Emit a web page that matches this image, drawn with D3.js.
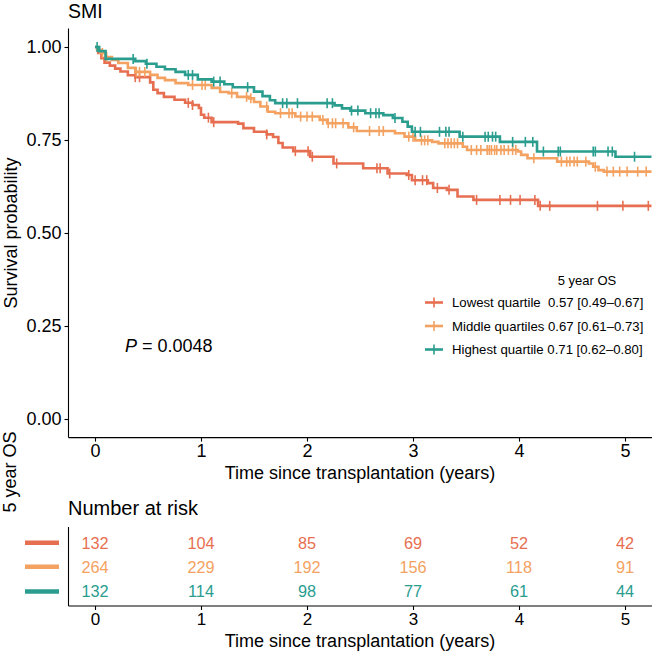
<!DOCTYPE html>
<html><head><meta charset="utf-8">
<script src="https://cdn.jsdelivr.net/npm/d3@7"></script>
<style>
body{margin:0;background:#fff;}
svg text{font-family:"Liberation Sans",Arial,Helvetica,sans-serif;fill:#000;}
</style></head>
<body><svg id="c" width="652" height="652"></svg>
<script>
// ---- data ----
const groupNames = ["Lowest quartile  0.57 [0.49\u20130.67]", "Middle quartiles 0.67 [0.61\u20130.73]", "Highest quartile 0.71 [0.62\u20130.80]"];
const groupColors = ["#E76F51", "#F4A261", "#2A9D8F"];

const lowTimes = [0, 0.03, 0.06, 0.09, 0.14, 0.19, 0.24, 0.31, 0.38, 0.52, 0.55, 0.59, 0.65, 0.75, 0.85, 0.92, 0.98, 1.00, 1.03, 1.10, 1.35, 1.40, 1.50, 1.62, 1.68, 1.73, 1.77, 1.87, 2.03, 2.25, 2.53, 2.76, 2.94, 2.99, 3.14, 3.19, 3.32, 3.42, 3.57, 4.18];
const lowSurv = [1.0, 0.984, 0.970, 0.958, 0.950, 0.942, 0.934, 0.924, 0.919, 0.905, 0.885, 0.876, 0.866, 0.858, 0.850, 0.844, 0.836, 0.818, 0.810, 0.798, 0.794, 0.782, 0.772, 0.765, 0.758, 0.742, 0.730, 0.720, 0.705, 0.687, 0.674, 0.660, 0.656, 0.642, 0.634, 0.621, 0.616, 0.598, 0.589, 0.573];
const lowCensor = [0.38, 0.42, 0.88, 0.92, 1.07, 1.12, 1.62, 1.89, 2.01, 2.05, 2.28, 2.66, 2.69, 2.78, 2.96, 3.02, 3.09, 3.13, 3.23, 3.34, 3.60, 3.82, 3.92, 4.01, 4.15, 4.20, 4.29, 4.74, 4.98, 5.22];

const midTimes = [0, 0.02, 0.05, 0.10, 0.16, 0.22, 0.31, 0.38, 0.52, 0.59, 0.66, 0.76, 0.88, 1.10, 1.18, 1.26, 1.34, 1.45, 1.50, 1.56, 1.63, 1.70, 1.89, 2.12, 2.19, 2.39, 2.47, 2.83, 2.92, 3.02, 3.18, 3.24, 3.47, 3.51, 3.99, 4.02, 4.08, 4.36, 4.66, 4.70, 4.75, 4.80];
const midSurv = [1.0, 0.992, 0.984, 0.973, 0.965, 0.957, 0.944, 0.933, 0.925, 0.917, 0.911, 0.903, 0.898, 0.890, 0.879, 0.876, 0.866, 0.862, 0.852, 0.840, 0.826, 0.822, 0.813, 0.804, 0.795, 0.784, 0.774, 0.768, 0.759, 0.749, 0.745, 0.741, 0.732, 0.723, 0.719, 0.710, 0.701, 0.692, 0.687, 0.678, 0.669, 0.665];
const midCensor = [0.07, 0.11, 0.39, 0.42, 0.47, 0.92, 1.01, 1.04, 1.29, 1.43, 1.47, 1.62, 1.75, 1.83, 1.86, 1.94, 2.00, 2.05, 2.15, 2.20, 2.24, 2.27, 2.34, 2.44, 2.59, 2.68, 2.72, 2.96, 3.00, 3.08, 3.11, 3.14, 3.30, 3.33, 3.36, 3.39, 3.42, 3.55, 3.60, 3.64, 3.70, 3.72, 3.74, 3.77, 3.79, 3.83, 3.86, 3.90, 3.94, 3.97, 4.14, 4.40, 4.45, 4.48, 4.52, 4.55, 4.63, 4.72, 4.83, 4.89, 4.95, 5.02, 5.12, 5.20];

const highTimes = [0, 0.04, 0.10, 0.38, 0.48, 0.58, 0.66, 0.76, 0.85, 0.97, 1.10, 1.22, 1.30, 1.50, 1.58, 1.65, 1.70, 2.26, 2.33, 2.41, 2.55, 2.72, 2.81, 2.90, 2.95, 2.99, 3.44, 3.82, 4.17, 4.91];
const highSurv = [1.0, 0.989, 0.968, 0.962, 0.955, 0.947, 0.940, 0.933, 0.925, 0.913, 0.907, 0.900, 0.892, 0.880, 0.868, 0.857, 0.849, 0.843, 0.835, 0.829, 0.822, 0.817, 0.809, 0.799, 0.786, 0.772, 0.759, 0.745, 0.719, 0.705];
const highCensor = [0.02, 0.36, 0.49, 0.88, 0.92, 1.12, 1.18, 1.44, 1.77, 1.81, 1.91, 2.19, 2.24, 2.42, 2.48, 2.60, 2.65, 2.68, 2.83, 3.02, 3.07, 3.25, 3.31, 3.34, 3.47, 3.68, 3.71, 3.75, 3.78, 3.94, 4.06, 4.13, 4.23, 4.37, 4.39, 4.70, 4.72, 4.84, 4.88, 5.09];

const xTicks = [0, 1, 2, 3, 4, 5];
const yTicks = [0, 0.25, 0.5, 0.75, 1.0];
const riskTimes = [0, 1, 2, 3, 4, 5];
const riskLow = [132, 104, 85, 69, 52, 42];
const riskMid = [264, 229, 192, 156, 118, 91];
const riskHigh = [132, 114, 98, 77, 61, 44];
const pText = "0.0048";

// ---- layout ----
const svg = d3.select("#c");
const xMax = 5.25;
const x = d3.scaleLinear().domain([-0.25, 5.25]).range([68.5, 651.5]);
const y = d3.scaleLinear().domain([-0.05, 1.05]).range([437.6, 28.4]);

const groups = [
  {t: lowTimes, s: lowSurv, c: lowCensor, risk: riskLow},
  {t: midTimes, s: midSurv, c: midCensor, risk: riskMid},
  {t: highTimes, s: highSurv, c: highCensor, risk: riskHigh}
];

svg.append("text").attr("x", 68).attr("y", 18).attr("font-size", 19.5).text("SMI");

// axes
const gx = svg.append("g").attr("transform", "translate(0,437.6)")
  .call(d3.axisBottom(x).tickValues(xTicks).tickFormat(d3.format("d")).tickSize(4).tickPadding(3));
const gy = svg.append("g").attr("transform", "translate(68.5,0)")
  .call(d3.axisLeft(y).tickValues(yTicks).tickFormat(d3.format(".2f")).tickSize(4).tickPadding(3));
[gx, gy].forEach(g => {
  g.select(".domain").attr("stroke", "#000").attr("stroke-width", 1.1);
  g.selectAll(".tick line").attr("stroke", "#000").attr("stroke-width", 1.1);
  g.selectAll(".tick text").attr("font-size", 18).attr("fill", "#000")
    .attr("font-family", '"Liberation Sans",Arial,sans-serif');
});
gx.select(".domain").attr("d", "M68.5,0H652");
gy.select(".domain").attr("d", "M0,28.4V437.6");

svg.append("text").attr("x", 360).attr("y", 479).attr("text-anchor", "middle").attr("font-size", 18)
  .text("Time since transplantation (years)");
svg.append("text").attr("transform", "translate(17,233) rotate(-90)").attr("text-anchor", "middle").attr("font-size", 18)
  .text("Survival probability");
svg.append("text").attr("transform", "translate(16,472) rotate(-90)").attr("text-anchor", "middle").attr("font-size", 18)
  .text("5 year OS");

// curves
const line = d3.line().x(d => x(d[0])).y(d => y(d[1])).curve(d3.curveStepAfter);
function survAt(g, t) {
  const i = d3.bisectRight(g.t, t) - 1;
  return g.s[Math.max(0, i)];
}
groups.forEach((g, gi) => {
  const pts = g.t.map((t, i) => [t, g.s[i]]);
  pts.push([xMax, g.s[g.s.length - 1]]);
  svg.append("path").datum(pts).attr("d", line).attr("fill", "none")
    .attr("stroke", groupColors[gi]).attr("stroke-width", 2.6).attr("stroke-linejoin", "miter");
  svg.append("g").selectAll("line").data(g.c).join("line")
    .attr("x1", d => x(d)).attr("x2", d => x(d))
    .attr("y1", d => y(survAt(g, d)) - 5).attr("y2", d => y(survAt(g, d)) + 5)
    .attr("stroke", groupColors[gi]).attr("stroke-width", 1.6);
});

// p value
const pt = svg.append("text").attr("x", 125).attr("y", 352).attr("font-size", 18);
pt.append("tspan").attr("font-style", "italic").text("P");
pt.append("tspan").text(" = " + pText);

// legend
svg.append("text").attr("x", 587).attr("y", 285).attr("text-anchor", "middle").attr("font-size", 13).text("5 year OS");
const legY = [302.5, 326, 349.5];
groupNames.forEach((n, i) => {
  const ly = legY[i];
  svg.append("line").attr("x1", 425).attr("x2", 443).attr("y1", ly).attr("y2", ly)
    .attr("stroke", groupColors[i]).attr("stroke-width", 2.6);
  svg.append("line").attr("x1", 434).attr("x2", 434).attr("y1", ly - 5).attr("y2", ly + 5)
    .attr("stroke", groupColors[i]).attr("stroke-width", 1.6);
  svg.append("text").attr("x", 452).attr("y", ly + 4.6).attr("font-size", 13.2)
    .style("white-space", "pre").attr("xml:space", "preserve").text(n);
});

// risk table
svg.append("text").attr("x", 68).attr("y", 515).attr("font-size", 20).text("Number at risk");
const rowY = [542.7, 566.8, 591.5];
const gr = svg.append("g").attr("transform", "translate(0,606)")
  .call(d3.axisBottom(x).tickValues(xTicks).tickFormat(d3.format("d")).tickSize(4).tickPadding(3));
gr.select(".domain").attr("d", "M68.5,0H652").attr("stroke", "#000").attr("stroke-width", 1.1);
gr.selectAll(".tick line").attr("stroke", "#000").attr("stroke-width", 1.1);
gr.selectAll(".tick text").attr("font-size", 17).attr("fill", "#000")
  .attr("font-family", '"Liberation Sans",Arial,sans-serif');
svg.append("line").attr("x1", 68.5).attr("x2", 68.5).attr("y1", 527).attr("y2", 606)
  .attr("stroke", "#000").attr("stroke-width", 1.1);
groups.forEach((g, gi) => {
  svg.append("line").attr("x1", 25).attr("x2", 59).attr("y1", rowY[gi]).attr("y2", rowY[gi])
    .attr("stroke", groupColors[gi]).attr("stroke-width", 4.5);
  svg.append("g").selectAll("text").data(riskTimes).join("text")
    .attr("x", d => x(d)).attr("y", rowY[gi] + 5.8).attr("text-anchor", "middle")
    .attr("font-size", 16.3).style("fill", groupColors[gi])
    .text((d, i) => g.risk[i]);
});
svg.append("text").attr("x", 360).attr("y", 647).attr("text-anchor", "middle").attr("font-size", 18)
  .text("Time since transplantation (years)");
</script></body></html>
